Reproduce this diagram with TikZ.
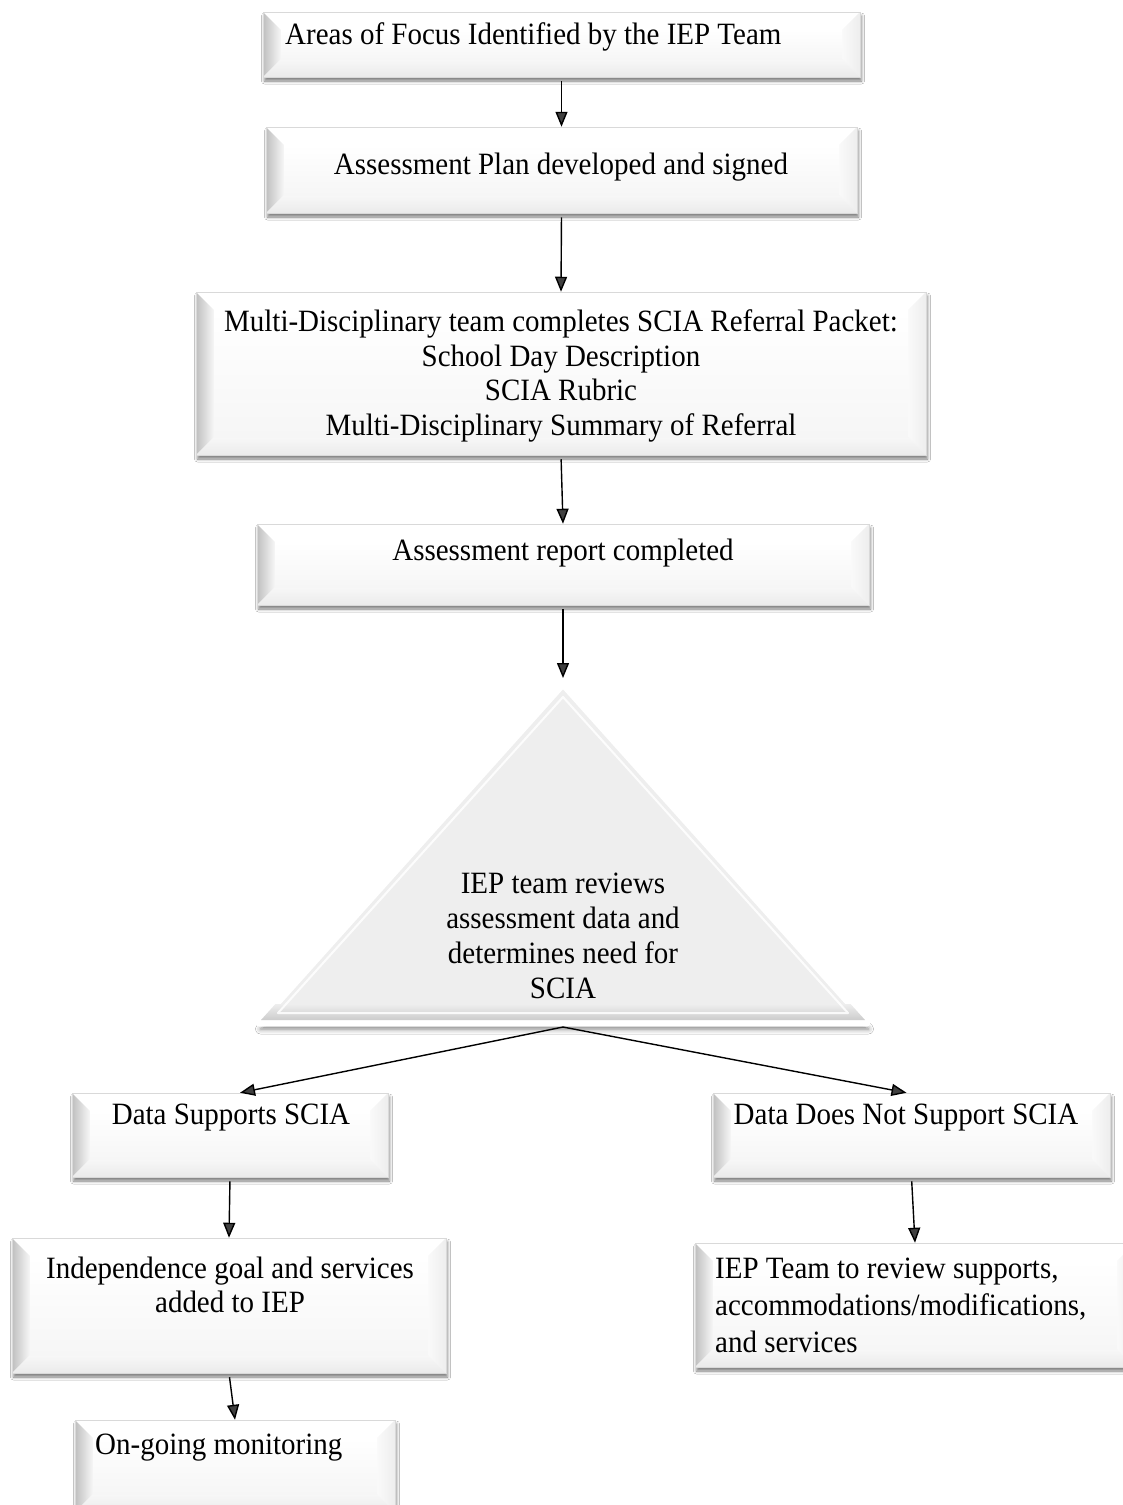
\documentclass[tikz,border=0pt]{standalone}
\usepackage{fontspec}
\setmainfont{Liberation Serif}[FakeStretch=0.935]
\usetikzlibrary{shadows.blur,arrows.meta,calc}
\definecolor{trifill}{HTML}{EEEEEE}
\def\bv{18pt}
\tikzset{
  bevelbox/.style={rectangle, inner sep=0pt, fill=gray!4, draw=gray!30, line width=0.5pt,
    blur shadow={shadow xshift=1.5pt, shadow yshift=-4pt, shadow blur radius=3pt, shadow opacity=50},
    path picture={
      \coordinate (@sw) at (path picture bounding box.south west);
      \coordinate (@ne) at (path picture bounding box.north east);
      \coordinate (@nw) at (path picture bounding box.north west);
      \coordinate (@se) at (path picture bounding box.south east);
      \fill[white] (@nw) -- (@ne) -- ([xshift=-\bv,yshift=-\bv]@ne) -- ([xshift=\bv,yshift=-\bv]@nw) -- cycle;
      \shade[left color=gray!50, right color=gray!6] (@sw) -- (@nw) -- ([xshift=\bv,yshift=-\bv]@nw) -- ([xshift=\bv,yshift=\bv]@sw) -- cycle;
      \shade[left color=gray!4, right color=gray!14] (@ne) -- (@se) -- ([xshift=-\bv,yshift=\bv]@se) -- ([xshift=-\bv,yshift=-\bv]@ne) -- cycle;
      \shade[top color=gray!6, bottom color=gray!16] (@sw) -- (@se) -- ([xshift=-\bv,yshift=\bv]@se) -- ([xshift=\bv,yshift=\bv]@sw) -- cycle;
      \shade[top color=white, bottom color=gray!7] ([xshift=\bv,yshift=\bv]@sw) rectangle ([xshift=-\bv,yshift=-\bv]@ne);
    }},
  txt/.style={inner sep=0pt, font=\fontsize{31pt}{34pt}\selectfont, text=black},
  arr/.style={-{Triangle[length=15pt,width=12pt]}, line width=1.4pt, shorten <=4pt}
}
\begin{document}
\begin{tikzpicture}[x=1pt,y=-1pt]
\useasboundingbox (0,0) rectangle (1123,1505);
\clip (0,0) rectangle (1123,1505);
\fill[white] (0,0) rectangle (1123,1505);

% boxes
\node[bevelbox, minimum width=597pt, minimum height=65pt] (b1) at (561.5,44.5) {};
\node[bevelbox, minimum width=591pt, minimum height=86pt] (b2) at (561.5,170) {};
\node[bevelbox, minimum width=730pt, minimum height=163pt] (b3) at (561,373.5) {};
\node[bevelbox, minimum width=612pt, minimum height=81pt] (b4) at (563,564.5) {};
\node[bevelbox, minimum width=316pt, minimum height=84pt] (bL) at (230,1135) {};
\node[bevelbox, minimum width=397pt, minimum height=84pt] (bR) at (911.5,1135) {};
\node[bevelbox, minimum width=434pt, minimum height=135pt] (bLL) at (229,1305.5) {};
\node[bevelbox, minimum width=440pt, minimum height=124pt] (bRR) at (915,1305) {};
\node[bevelbox, minimum width=320pt, minimum height=92pt] (bB) at (235,1466) {};

% triangle
\coordinate (triTop) at (563,678);
\coordinate (triBot) at (563,1027);
\path[fill=trifill, draw=white, line width=7pt, line join=round,
  blur shadow={shadow xshift=1.5pt, shadow yshift=-6pt, shadow blur radius=5pt, shadow opacity=50}]
  (563,684) -- (867,1023) -- (259,1023) -- cycle;
\begin{scope}
  \clip (563,686) -- (865,1020) -- (261,1020) -- cycle;
  \shade[top color=trifill, bottom color=gray!40] (250,1004) rectangle (880,1020);
\end{scope}
\draw[white, line width=2pt, line join=round, opacity=0.85] (563,697) -- (848,1013) -- (278,1013) -- cycle;

% texts
\node[txt, anchor=west] (t1) at (285,37) {Areas of Focus Identified by the IEP Team};
\node[txt] (t2) at (561,167) {Assessment Plan developed and signed};
\node[txt, align=center, font=\fontsize{31pt}{34.5pt}\selectfont] (t3) at (561,376) {Multi-Disciplinary team completes SCIA Referral Packet:\\School Day Description\\SCIA Rubric\\Multi-Disciplinary Summary of Referral};
\node[txt] (t4) at (563,553) {Assessment report completed};
\node[txt, align=center, font=\fontsize{31pt}{35pt}\selectfont] (tri) at (563,936) {IEP team reviews\\assessment data and\\determines need for\\SCIA};
\node[txt] (tL) at (231,1118) {Data Supports SCIA};
\node[txt] (tR) at (906,1118) {Data Does Not Support SCIA};
\node[txt, align=center] (tLL) at (230,1285) {Independence goal and services\\added to IEP};
\node[txt, align=left, anchor=west, font=\fontsize{31pt}{37pt}\selectfont] (tRR) at (715,1305) {IEP Team to review supports,\\accommodations/modifications,\\and services};
\node[txt, anchor=west] (tB) at (95,1448) {On-going monitoring};

% connectors
\draw[arr] (b1.south) -- (b2.north);
\draw[arr] (b2.south) -- (b3.north);
\draw[arr] (b3.south) -- (b4.north);
\draw[arr] (b4.south) -- (triTop);
\draw[arr, shorten <=0pt] (triBot) -- ($(bL.north)+(10,0)$);
\draw[arr, shorten <=0pt] (triBot) -- ($(bR.north)+(-5,0)$);
\draw[arr] (bL.south) -- (bLL.north);
\draw[arr] (bR.south) -- (bRR.north);
\draw[arr] (bLL.south) -- (bB.north);
\end{tikzpicture}
\end{document}
